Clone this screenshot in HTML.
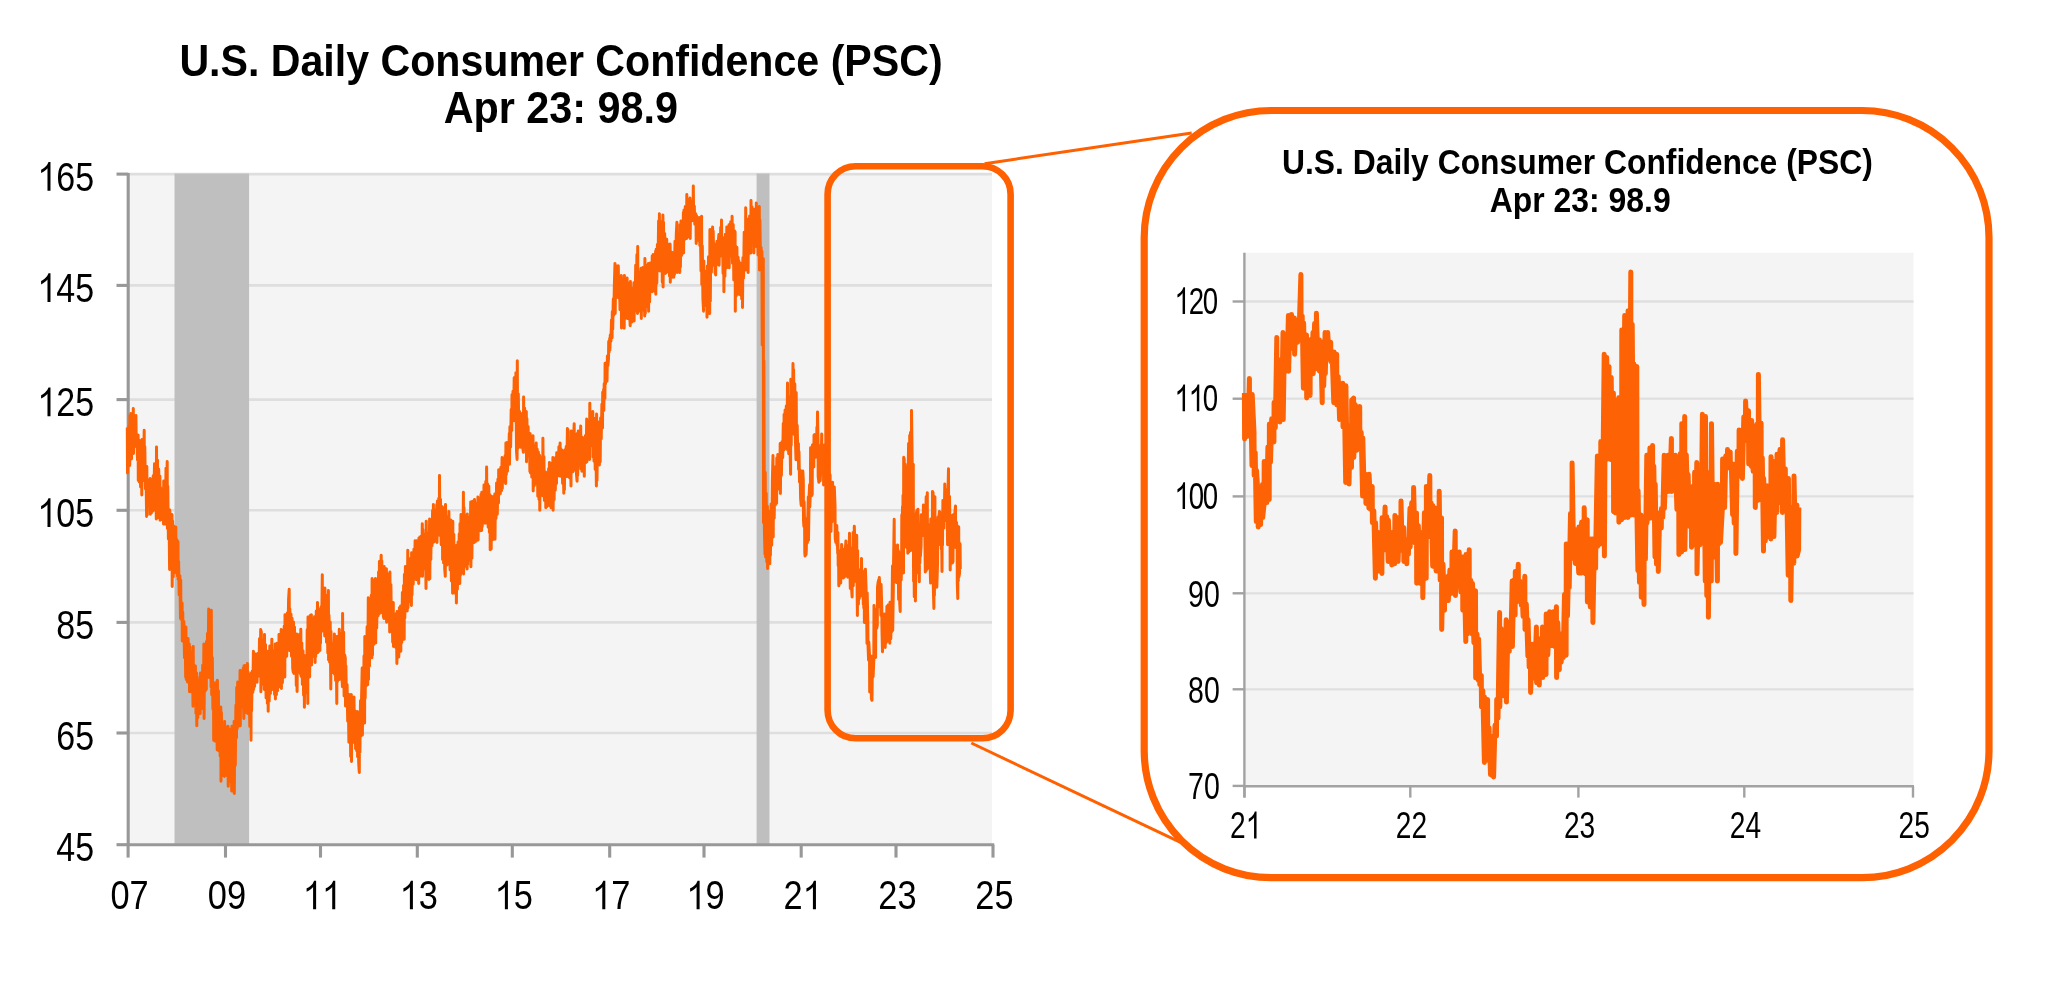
<!DOCTYPE html>
<html><head><meta charset="utf-8"><style>
html,body{margin:0;padding:0;background:#fff;width:2048px;height:993px;overflow:hidden}
svg{display:block;filter:blur(0.45px)}
text{font-family:"Liberation Sans",sans-serif;fill:#000}
.ly{font-size:40px}
.ry{font-size:37.5px}
.t1{font-size:44px;font-weight:bold}
.t2{font-size:35.5px;font-weight:bold}
</style></head><body>
<svg width="2048" height="993" viewBox="0 0 2048 993">
<rect width="2048" height="993" fill="#fff"/>
<text x="561" y="76.4" text-anchor="middle" class="t1" transform="translate(561 0) scale(0.935 1) translate(-561 0)">U.S. Daily Consumer Confidence (PSC)</text>
<text x="560.9" y="122.6" text-anchor="middle" class="t1" transform="translate(560.9 0) scale(0.940 1) translate(-560.9 0)">Apr 23: 98.9</text>
<rect x="128" y="173.5" width="864" height="671.2" fill="#f4f4f4"/>
<line x1="128" y1="174.1" x2="992" y2="174.1" stroke="#dedede" stroke-width="2.6"/>
<line x1="128" y1="285.4" x2="992" y2="285.4" stroke="#dedede" stroke-width="2.6"/>
<line x1="128" y1="399.6" x2="992" y2="399.6" stroke="#dedede" stroke-width="2.6"/>
<line x1="128" y1="510.3" x2="992" y2="510.3" stroke="#dedede" stroke-width="2.6"/>
<line x1="128" y1="622.4" x2="992" y2="622.4" stroke="#dedede" stroke-width="2.6"/>
<line x1="128" y1="733.0" x2="992" y2="733.0" stroke="#dedede" stroke-width="2.6"/>
<rect x="174.5" y="173.5" width="74.6" height="671.2" fill="#bfbfbf"/>
<rect x="756.6" y="173.5" width="12.9" height="671.2" fill="#bfbfbf"/>
<line x1="128.2" y1="173" x2="128.2" y2="845.9" stroke="#989898" stroke-width="3.1"/>
<line x1="127" y1="844.7" x2="994.2" y2="844.7" stroke="#989898" stroke-width="3.1"/>
<line x1="116.5" y1="174.1" x2="128.2" y2="174.1" stroke="#989898" stroke-width="3.1"/>
<line x1="116.5" y1="285.4" x2="128.2" y2="285.4" stroke="#989898" stroke-width="3.1"/>
<line x1="116.5" y1="399.6" x2="128.2" y2="399.6" stroke="#989898" stroke-width="3.1"/>
<line x1="116.5" y1="510.3" x2="128.2" y2="510.3" stroke="#989898" stroke-width="3.1"/>
<line x1="116.5" y1="622.4" x2="128.2" y2="622.4" stroke="#989898" stroke-width="3.1"/>
<line x1="116.5" y1="733.0" x2="128.2" y2="733.0" stroke="#989898" stroke-width="3.1"/>
<line x1="116.5" y1="844.7" x2="128.2" y2="844.7" stroke="#989898" stroke-width="3.1"/>
<line x1="128.1" y1="844.7" x2="128.1" y2="857.6" stroke="#989898" stroke-width="3.1"/>
<line x1="225.5" y1="844.7" x2="225.5" y2="857.6" stroke="#989898" stroke-width="3.1"/>
<line x1="320.5" y1="844.7" x2="320.5" y2="857.6" stroke="#989898" stroke-width="3.1"/>
<line x1="417.3" y1="844.7" x2="417.3" y2="857.6" stroke="#989898" stroke-width="3.1"/>
<line x1="512.3" y1="844.7" x2="512.3" y2="857.6" stroke="#989898" stroke-width="3.1"/>
<line x1="609.7" y1="844.7" x2="609.7" y2="857.6" stroke="#989898" stroke-width="3.1"/>
<line x1="704.0" y1="844.7" x2="704.0" y2="857.6" stroke="#989898" stroke-width="3.1"/>
<line x1="801.2" y1="844.7" x2="801.2" y2="857.6" stroke="#989898" stroke-width="3.1"/>
<line x1="896.0" y1="844.7" x2="896.0" y2="857.6" stroke="#989898" stroke-width="3.1"/>
<line x1="993.0" y1="844.7" x2="993.0" y2="857.6" stroke="#989898" stroke-width="3.1"/>
<path d="M0.385 0L0.385 -0.716L0.327 -0.716Q0.30 -0.64 0.22 -0.585Q0.16 -0.545 0.109 -0.525L0.109 -0.44Q0.17 -0.465 0.22 -0.497Q0.27 -0.53 0.297 -0.56L0.297 0Z" transform="translate(37.39 190.70) scale(34.000 40.000)" fill="#000"/><text x="56.29" y="190.70" style="font-size:40px" transform="translate(56.29 0) scale(0.85 1) translate(-56.29 0)">6</text><text x="75.20" y="190.70" style="font-size:40px" transform="translate(75.20 0) scale(0.85 1) translate(-75.20 0)">5</text>
<path d="M0.385 0L0.385 -0.716L0.327 -0.716Q0.30 -0.64 0.22 -0.585Q0.16 -0.545 0.109 -0.525L0.109 -0.44Q0.17 -0.465 0.22 -0.497Q0.27 -0.53 0.297 -0.56L0.297 0Z" transform="translate(37.39 302.00) scale(34.000 40.000)" fill="#000"/><text x="56.29" y="302.00" style="font-size:40px" transform="translate(56.29 0) scale(0.85 1) translate(-56.29 0)">4</text><text x="75.20" y="302.00" style="font-size:40px" transform="translate(75.20 0) scale(0.85 1) translate(-75.20 0)">5</text>
<path d="M0.385 0L0.385 -0.716L0.327 -0.716Q0.30 -0.64 0.22 -0.585Q0.16 -0.545 0.109 -0.525L0.109 -0.44Q0.17 -0.465 0.22 -0.497Q0.27 -0.53 0.297 -0.56L0.297 0Z" transform="translate(37.39 416.20) scale(34.000 40.000)" fill="#000"/><text x="56.29" y="416.20" style="font-size:40px" transform="translate(56.29 0) scale(0.85 1) translate(-56.29 0)">2</text><text x="75.20" y="416.20" style="font-size:40px" transform="translate(75.20 0) scale(0.85 1) translate(-75.20 0)">5</text>
<path d="M0.385 0L0.385 -0.716L0.327 -0.716Q0.30 -0.64 0.22 -0.585Q0.16 -0.545 0.109 -0.525L0.109 -0.44Q0.17 -0.465 0.22 -0.497Q0.27 -0.53 0.297 -0.56L0.297 0Z" transform="translate(37.39 526.90) scale(34.000 40.000)" fill="#000"/><text x="56.29" y="526.90" style="font-size:40px" transform="translate(56.29 0) scale(0.85 1) translate(-56.29 0)">0</text><text x="75.20" y="526.90" style="font-size:40px" transform="translate(75.20 0) scale(0.85 1) translate(-75.20 0)">5</text>
<text x="56.29" y="639.00" style="font-size:40px" transform="translate(56.29 0) scale(0.85 1) translate(-56.29 0)">8</text><text x="75.20" y="639.00" style="font-size:40px" transform="translate(75.20 0) scale(0.85 1) translate(-75.20 0)">5</text>
<text x="56.29" y="749.60" style="font-size:40px" transform="translate(56.29 0) scale(0.85 1) translate(-56.29 0)">6</text><text x="75.20" y="749.60" style="font-size:40px" transform="translate(75.20 0) scale(0.85 1) translate(-75.20 0)">5</text>
<text x="56.29" y="861.30" style="font-size:40px" transform="translate(56.29 0) scale(0.85 1) translate(-56.29 0)">4</text><text x="75.20" y="861.30" style="font-size:40px" transform="translate(75.20 0) scale(0.85 1) translate(-75.20 0)">5</text>
<text x="110.47" y="909.30" style="font-size:40px" transform="translate(110.47 0) scale(0.86 1) translate(-110.47 0)">0</text><text x="129.60" y="909.30" style="font-size:40px" transform="translate(129.60 0) scale(0.86 1) translate(-129.60 0)">7</text>
<text x="207.87" y="909.30" style="font-size:40px" transform="translate(207.87 0) scale(0.86 1) translate(-207.87 0)">0</text><text x="227.00" y="909.30" style="font-size:40px" transform="translate(227.00 0) scale(0.86 1) translate(-227.00 0)">9</text>
<path d="M0.385 0L0.385 -0.716L0.327 -0.716Q0.30 -0.64 0.22 -0.585Q0.16 -0.545 0.109 -0.525L0.109 -0.44Q0.17 -0.465 0.22 -0.497Q0.27 -0.53 0.297 -0.56L0.297 0Z" transform="translate(302.87 909.30) scale(34.400 40.000)" fill="#000"/><path d="M0.385 0L0.385 -0.716L0.327 -0.716Q0.30 -0.64 0.22 -0.585Q0.16 -0.545 0.109 -0.525L0.109 -0.44Q0.17 -0.465 0.22 -0.497Q0.27 -0.53 0.297 -0.56L0.297 0Z" transform="translate(322.00 909.30) scale(34.400 40.000)" fill="#000"/>
<path d="M0.385 0L0.385 -0.716L0.327 -0.716Q0.30 -0.64 0.22 -0.585Q0.16 -0.545 0.109 -0.525L0.109 -0.44Q0.17 -0.465 0.22 -0.497Q0.27 -0.53 0.297 -0.56L0.297 0Z" transform="translate(399.67 909.30) scale(34.400 40.000)" fill="#000"/><text x="418.80" y="909.30" style="font-size:40px" transform="translate(418.80 0) scale(0.86 1) translate(-418.80 0)">3</text>
<path d="M0.385 0L0.385 -0.716L0.327 -0.716Q0.30 -0.64 0.22 -0.585Q0.16 -0.545 0.109 -0.525L0.109 -0.44Q0.17 -0.465 0.22 -0.497Q0.27 -0.53 0.297 -0.56L0.297 0Z" transform="translate(494.67 909.30) scale(34.400 40.000)" fill="#000"/><text x="513.80" y="909.30" style="font-size:40px" transform="translate(513.80 0) scale(0.86 1) translate(-513.80 0)">5</text>
<path d="M0.385 0L0.385 -0.716L0.327 -0.716Q0.30 -0.64 0.22 -0.585Q0.16 -0.545 0.109 -0.525L0.109 -0.44Q0.17 -0.465 0.22 -0.497Q0.27 -0.53 0.297 -0.56L0.297 0Z" transform="translate(592.07 909.30) scale(34.400 40.000)" fill="#000"/><text x="611.20" y="909.30" style="font-size:40px" transform="translate(611.20 0) scale(0.86 1) translate(-611.20 0)">7</text>
<path d="M0.385 0L0.385 -0.716L0.327 -0.716Q0.30 -0.64 0.22 -0.585Q0.16 -0.545 0.109 -0.525L0.109 -0.44Q0.17 -0.465 0.22 -0.497Q0.27 -0.53 0.297 -0.56L0.297 0Z" transform="translate(686.37 909.30) scale(34.400 40.000)" fill="#000"/><text x="705.50" y="909.30" style="font-size:40px" transform="translate(705.50 0) scale(0.86 1) translate(-705.50 0)">9</text>
<text x="783.57" y="909.30" style="font-size:40px" transform="translate(783.57 0) scale(0.86 1) translate(-783.57 0)">2</text><path d="M0.385 0L0.385 -0.716L0.327 -0.716Q0.30 -0.64 0.22 -0.585Q0.16 -0.545 0.109 -0.525L0.109 -0.44Q0.17 -0.465 0.22 -0.497Q0.27 -0.53 0.297 -0.56L0.297 0Z" transform="translate(802.70 909.30) scale(34.400 40.000)" fill="#000"/>
<text x="878.37" y="909.30" style="font-size:40px" transform="translate(878.37 0) scale(0.86 1) translate(-878.37 0)">2</text><text x="897.50" y="909.30" style="font-size:40px" transform="translate(897.50 0) scale(0.86 1) translate(-897.50 0)">3</text>
<text x="975.37" y="909.30" style="font-size:40px" transform="translate(975.37 0) scale(0.86 1) translate(-975.37 0)">2</text><text x="994.50" y="909.30" style="font-size:40px" transform="translate(994.50 0) scale(0.86 1) translate(-994.50 0)">5</text>
<path d="M127.3 427.5 L127.5 473.1 L127.9 434.9 L128.5 466.0 L129.1 426.1 L129.7 465.5 L129.9 415.5 L130.3 458.3 L130.9 413.6 L131.5 459.1 L132.1 414.7 L132.7 451.9 L133.3 408.5 L133.5 453.5 L133.9 418.9 L134.5 439.1 L135.1 418.4 L135.7 446.5 L135.9 415.5 L136.3 445.3 L136.9 436.6 L137.5 460.0 L138.1 435.0 L138.3 480.5 L138.7 440.9 L139.3 482.1 L139.9 440.7 L140.6 487.0 L141.2 442.0 L141.8 494.9 L142.0 439.5 L142.4 481.2 L143.0 449.1 L143.6 471.1 L144.2 430.2 L144.4 480.5 L144.8 446.5 L145.4 488.7 L146.0 469.4 L146.6 516.5 L146.8 466.5 L147.2 514.9 L147.8 479.5 L148.4 503.7 L149.0 484.0 L149.6 506.1 L150.2 478.5 L150.4 514.3 L150.8 481.0 L151.4 513.0 L152.0 480.1 L152.6 511.2 L153.2 475.7 L153.9 500.4 L154.5 463.8 L155.1 510.3 L155.7 469.7 L156.3 519.1 L156.5 447.1 L156.9 504.7 L157.5 460.0 L158.1 517.5 L158.7 468.9 L159.3 506.8 L159.9 476.1 L160.1 520.3 L160.5 487.6 L161.1 519.6 L161.7 489.3 L162.3 510.0 L162.9 488.7 L163.5 523.9 L163.7 481.0 L164.1 519.7 L164.7 482.9 L165.3 524.0 L166.0 468.3 L166.6 509.4 L167.2 461.5 L167.4 528.5 L167.8 486.3 L168.4 539.0 L169.0 515.1 L169.6 569.5 L169.8 510.0 L170.2 565.6 L170.8 529.4 L171.4 565.2 L172.0 514.5 L172.2 586.5 L172.6 520.8 L173.2 577.0 L173.8 525.9 L174.4 573.1 L175.0 533.6 L175.6 572.3 L175.8 526.9 L176.2 570.7 L176.8 539.4 L177.4 576.1 L178.0 541.5 L178.2 579.5 L178.6 561.6 L179.2 594.9 L179.9 575.7 L180.5 618.5 L180.7 580.1 L181.0 619.3 L181.6 605.7 L182.1 602.9 L182.3 641.0 L182.7 612.0 L183.3 641.5 L183.9 621.6 L184.5 657.8 L185.1 630.6 L185.7 677.3 L185.9 627.1 L186.3 679.4 L186.9 639.3 L187.5 681.9 L188.1 638.4 L188.7 677.8 L189.3 644.0 L189.5 691.8 L189.9 647.0 L190.5 689.3 L191.2 657.0 L191.8 692.2 L192.4 651.7 L193.0 706.3 L193.2 646.5 L193.6 700.4 L194.2 664.9 L194.8 702.8 L195.4 666.0 L196.0 713.4 L196.6 673.1 L196.8 725.7 L197.2 676.9 L197.8 717.6 L198.4 683.9 L199.0 710.8 L199.6 680.3 L200.2 713.5 L200.4 673.1 L200.8 703.8 L201.4 677.6 L202.1 708.4 L202.7 665.3 L203.3 707.2 L203.9 644.0 L204.1 718.5 L204.5 653.8 L205.1 691.3 L205.7 649.5 L206.3 689.5 L206.5 641.5 L206.9 678.0 L207.5 633.6 L208.1 662.5 L208.7 609.0 L208.9 677.3 L209.3 624.1 L209.9 663.1 L210.5 631.0 L211.1 687.0 L211.3 610.2 L211.7 694.7 L212.3 657.6 L212.9 709.2 L213.5 682.5 L213.7 740.2 L214.1 697.2 L214.7 740.9 L215.3 683.7 L216.0 738.0 L216.6 682.1 L217.2 749.9 L217.4 680.3 L217.8 750.1 L218.4 690.7 L219.0 751.1 L219.6 715.2 L220.2 756.3 L220.8 706.9 L221.0 781.3 L221.4 712.6 L222.0 765.1 L222.6 727.0 L223.2 775.5 L223.8 734.5 L224.4 776.5 L224.6 721.5 L225.0 761.9 L225.6 726.8 L226.2 764.9 L226.8 731.7 L227.4 775.9 L228.0 726.3 L228.2 786.2 L228.6 744.3 L229.2 772.4 L229.8 729.3 L230.5 781.2 L231.1 736.2 L231.7 791.0 L231.9 726.3 L232.3 784.9 L232.9 727.9 L233.5 786.2 L234.1 721.5 L234.3 793.5 L234.7 727.4 L235.3 765.3 L235.9 705.3 L236.5 737.8 L236.7 687.5 L237.1 729.0 L237.7 682.1 L238.3 726.5 L238.9 686.2 L239.5 719.4 L240.1 670.5 L240.3 725.7 L240.7 670.8 L241.3 707.2 L241.9 680.9 L242.6 705.3 L243.2 668.3 L243.8 718.5 L244.0 665.8 L244.4 713.5 L245.0 665.6 L245.6 704.0 L246.2 668.4 L246.8 712.4 L247.4 663.5 L247.6 713.5 L248.0 671.8 L248.6 707.2 L249.2 682.7 L249.8 726.5 L250.4 674.4 L251.0 740.2 L251.2 673.1 L251.6 711.0 L252.2 671.2 L252.8 692.6 L253.4 651.3 L253.6 689.5 L254.0 652.7 L254.6 686.5 L255.2 659.4 L255.9 680.6 L256.5 654.0 L257.1 682.2 L257.3 653.7 L257.7 674.2 L258.3 653.2 L258.9 676.1 L259.5 638.8 L260.1 675.6 L260.7 629.5 L260.9 691.8 L261.3 631.5 L261.9 675.5 L262.5 639.9 L263.1 684.4 L263.7 642.9 L264.3 689.5 L264.5 634.4 L264.9 677.6 L265.5 644.6 L266.1 698.1 L266.8 654.9 L267.4 703.4 L268.0 651.3 L268.2 711.2 L268.6 651.2 L269.2 701.2 L269.8 646.1 L270.4 693.5 L271.0 646.1 L271.6 689.5 L271.8 639.2 L272.2 686.4 L272.8 652.6 L273.4 689.7 L274.0 650.4 L274.6 694.6 L275.2 644.0 L275.4 699.1 L275.8 648.1 L276.4 694.8 L277.0 643.2 L277.6 690.8 L278.2 647.7 L278.8 687.0 L279.0 634.4 L279.4 678.4 L280.0 635.1 L280.6 679.9 L281.2 629.5 L281.4 688.5 L281.8 643.7 L282.4 682.8 L283.0 637.0 L283.6 672.9 L284.2 626.3 L284.8 677.0 L285.0 614.7 L285.4 657.6 L286.1 614.7 L286.7 656.2 L287.3 612.9 L287.9 639.9 L288.6 599.2 L289.2 589.3 L289.4 650.4 L289.8 608.8 L290.4 644.3 L291.0 614.1 L291.5 656.2 L292.1 618.2 L292.7 668.2 L293.3 672.2 L293.5 622.0 L293.9 673.4 L294.5 627.1 L295.1 669.9 L295.7 634.3 L296.3 685.5 L296.9 634.1 L297.1 691.5 L297.5 634.7 L298.1 672.4 L298.8 645.1 L299.4 670.2 L300.0 634.0 L300.6 674.5 L300.8 629.2 L301.2 676.6 L301.8 643.0 L302.4 684.4 L303.0 650.8 L303.6 695.3 L304.2 658.2 L304.4 707.2 L304.8 655.7 L305.4 688.2 L306.0 657.4 L306.6 692.6 L307.2 629.8 L307.8 703.5 L308.0 617.1 L308.4 673.8 L309.0 623.2 L309.6 676.9 L310.2 615.5 L310.8 664.9 L311.4 614.7 L311.6 664.9 L312.0 622.1 L312.6 656.8 L313.2 618.8 L313.9 656.2 L314.5 616.8 L315.1 662.5 L315.3 617.1 L315.7 656.4 L316.3 611.1 L316.9 649.3 L317.5 602.5 L317.7 652.8 L318.1 608.5 L318.7 651.4 L319.3 621.9 L319.9 650.5 L320.1 624.4 L320.5 643.3 L321.1 606.8 L321.7 628.2 L322.3 574.8 L322.5 631.1 L322.9 590.3 L323.5 623.2 L324.1 595.5 L324.7 635.9 L324.9 588.1 L325.3 626.4 L325.9 595.3 L326.5 642.3 L327.2 608.1 L327.8 653.1 L328.4 590.5 L328.6 660.1 L329.0 615.2 L329.6 662.3 L330.2 622.0 L330.8 689.1 L331.0 631.5 L331.4 673.0 L332.0 646.2 L332.6 672.6 L333.2 643.4 L333.8 666.4 L334.4 634.1 L334.6 674.5 L335.0 636.7 L335.6 680.6 L336.2 645.0 L336.8 703.5 L337.0 636.5 L337.4 681.8 L338.1 647.0 L338.7 672.0 L339.3 629.2 L339.5 679.5 L339.9 635.7 L340.5 666.5 L341.2 632.9 L341.8 671.0 L342.4 686.7 L342.6 613.5 L343.0 685.9 L343.6 632.0 L344.1 696.0 L344.7 655.0 L345.3 658.2 L345.5 706.0 L345.9 665.8 L346.5 706.1 L347.1 684.4 L347.7 721.2 L348.3 697.4 L348.9 742.3 L349.1 694.5 L349.5 736.4 L350.1 702.9 L350.7 756.6 L351.3 694.5 L351.5 761.5 L351.9 709.8 L352.6 739.3 L353.2 704.0 L353.8 742.3 L354.0 696.9 L354.4 737.4 L355.0 710.7 L355.6 748.7 L356.2 716.7 L356.8 751.0 L357.4 711.5 L357.6 756.8 L358.0 714.2 L358.7 763.1 L359.3 772.5 L359.5 716.3 L359.9 752.2 L360.5 700.7 L361.0 736.1 L361.6 696.6 L362.2 667.9 L362.4 735.0 L362.8 670.7 L363.4 720.1 L364.0 656.1 L364.6 722.9 L364.8 636.5 L365.2 698.1 L365.8 643.1 L366.5 685.6 L367.1 626.8 L367.7 684.8 L368.3 597.8 L368.5 679.5 L368.9 598.2 L369.5 666.1 L370.1 606.1 L370.7 657.7 L371.3 595.3 L371.9 657.7 L372.1 578.5 L372.5 655.0 L373.1 579.9 L373.7 644.6 L374.3 592.5 L374.9 631.6 L375.5 578.5 L375.7 643.1 L376.1 588.4 L376.7 628.1 L377.4 579.1 L378.0 615.9 L378.6 572.0 L379.2 614.1 L379.4 561.5 L379.9 611.6 L380.5 572.2 L381.2 555.2 L381.4 612.5 L381.8 560.8 L382.3 598.7 L382.9 577.2 L383.4 617.0 L384.0 618.5 L384.2 566.5 L384.6 612.2 L385.2 580.6 L385.8 605.9 L386.4 568.8 L386.6 622.3 L386.9 576.7 L387.5 621.0 L388.0 574.0 L388.6 612.4 L389.1 575.3 L389.7 632.0 L389.9 572.1 L390.3 624.4 L390.9 584.6 L391.5 631.1 L392.1 606.5 L392.7 642.2 L393.3 602.5 L393.5 646.5 L393.9 615.2 L394.5 645.0 L395.1 619.8 L395.7 647.4 L396.3 613.5 L396.9 663.4 L397.1 611.5 L397.5 647.7 L398.1 616.9 L398.8 657.0 L399.4 607.8 L400.0 646.5 L400.6 605.9 L400.8 651.3 L401.2 607.2 L401.8 642.6 L402.4 592.5 L403.0 637.2 L403.6 585.6 L404.2 639.2 L404.4 574.5 L404.8 618.0 L405.4 566.5 L406.0 609.7 L406.6 573.4 L407.2 610.9 L407.8 550.3 L408.0 607.8 L408.4 566.5 L409.0 595.0 L409.6 566.4 L410.2 601.5 L410.8 558.3 L411.4 605.4 L411.6 552.7 L412.0 595.0 L412.6 563.0 L413.2 584.1 L413.9 549.3 L414.5 578.0 L415.1 540.7 L415.3 578.8 L415.7 543.5 L416.3 579.8 L416.9 540.7 L417.5 571.2 L418.1 542.4 L418.7 583.6 L418.9 538.2 L419.3 569.3 L419.9 536.9 L420.5 576.0 L421.1 536.2 L421.7 574.6 L422.3 523.7 L422.5 576.3 L422.9 529.5 L423.5 563.9 L424.1 538.4 L424.8 569.2 L425.4 534.0 L426.0 588.5 L426.2 521.3 L426.6 568.8 L427.2 538.8 L427.8 573.2 L428.4 533.2 L429.0 579.5 L429.6 518.9 L429.8 578.8 L430.2 528.8 L430.8 559.6 L431.4 522.7 L432.0 545.8 L432.6 510.4 L433.2 542.5 L433.4 504.4 L433.8 541.9 L434.4 515.0 L435.0 541.0 L435.6 509.8 L436.2 538.6 L436.8 504.4 L437.0 542.5 L437.4 501.0 L438.1 528.0 L438.7 498.6 L439.3 535.2 L439.5 475.4 L439.9 535.5 L440.5 499.2 L441.2 544.7 L441.8 509.6 L442.4 506.8 L442.6 559.4 L443.0 513.0 L443.6 563.1 L444.1 508.5 L444.7 568.7 L445.3 576.3 L445.5 504.4 L445.9 555.3 L446.5 516.4 L447.1 565.0 L447.7 524.8 L448.3 548.1 L448.9 511.6 L449.1 561.8 L449.5 520.5 L450.1 569.9 L450.8 520.0 L451.4 581.0 L452.0 526.7 L452.6 593.3 L452.8 521.3 L453.2 593.0 L453.8 534.2 L454.4 593.1 L455.0 548.1 L455.6 585.4 L456.2 545.5 L456.4 602.9 L456.8 554.9 L457.4 589.3 L458.0 541.9 L458.6 580.7 L459.2 534.1 L459.8 583.6 L460.0 523.7 L460.4 575.5 L461.0 514.5 L461.6 572.9 L462.2 524.4 L462.8 572.6 L463.4 492.3 L463.6 573.9 L464.0 507.6 L464.6 558.6 L465.2 520.9 L465.9 566.6 L466.5 515.3 L467.1 569.1 L467.3 514.1 L467.7 564.5 L468.3 517.1 L468.9 559.9 L469.5 523.6 L470.1 551.0 L470.7 502.0 L470.9 566.7 L471.3 517.6 L471.9 558.3 L472.5 501.3 L473.1 539.9 L473.7 512.4 L474.3 542.5 L474.5 499.5 L474.9 536.0 L475.5 506.3 L476.1 541.3 L476.7 503.0 L477.3 528.5 L477.9 497.1 L478.1 540.1 L478.5 506.7 L479.1 526.3 L479.8 506.5 L480.4 530.7 L481.0 494.4 L481.6 530.4 L481.8 492.3 L482.2 526.8 L482.8 494.6 L483.4 517.1 L484.0 485.0 L484.2 523.1 L484.6 492.5 L485.2 512.9 L485.8 481.5 L486.4 523.1 L486.6 466.9 L487.0 514.7 L487.6 483.8 L488.2 527.2 L488.8 486.1 L489.4 532.3 L490.0 494.7 L490.2 549.7 L490.6 499.3 L491.2 548.9 L491.4 496.3 L491.8 533.1 L492.4 505.2 L493.0 539.6 L493.6 496.5 L494.2 537.3 L494.8 493.9 L495.0 539.2 L495.4 498.1 L496.0 518.5 L496.6 483.1 L497.3 514.3 L497.9 479.3 L498.5 503.0 L498.7 469.7 L499.1 494.8 L499.7 469.5 L500.3 493.6 L500.9 467.3 L501.5 490.8 L502.1 457.6 L502.3 488.5 L502.7 458.1 L503.3 482.2 L503.9 460.6 L504.5 478.0 L505.1 455.8 L505.7 483.6 L505.9 443.1 L506.3 474.8 L506.9 442.5 L507.5 471.3 L508.1 446.5 L508.7 460.6 L509.3 433.4 L509.5 464.3 L509.9 426.7 L510.6 447.1 L511.2 409.5 L511.8 430.4 L512.0 394.7 L512.4 420.4 L513.0 391.2 L513.6 420.0 L514.2 377.8 L514.4 420.7 L514.8 385.2 L515.4 418.1 L515.9 372.8 L516.5 450.8 L517.1 459.4 L517.3 360.8 L517.7 448.5 L518.3 393.8 L519.0 440.9 L519.6 411.6 L520.2 421.3 L520.4 447.3 L520.8 424.1 L521.5 440.9 L522.1 413.4 L522.8 448.2 L523.4 452.2 L523.6 397.1 L524.0 438.4 L524.6 407.9 L525.1 445.1 L525.7 412.2 L526.3 411.6 L526.5 461.8 L526.9 418.4 L527.5 454.5 L528.1 426.4 L528.7 456.2 L529.3 435.7 L529.9 471.5 L530.1 433.4 L530.5 473.0 L531.1 437.4 L531.8 477.1 L532.4 445.6 L533.0 435.8 L533.2 490.9 L533.6 452.1 L534.2 485.8 L534.8 445.6 L535.4 482.3 L536.0 483.6 L536.2 443.1 L536.6 475.5 L537.2 449.1 L537.8 496.2 L538.4 452.1 L539.0 499.6 L539.6 455.2 L539.8 510.2 L540.2 466.8 L540.8 489.6 L541.5 457.4 L542.1 481.5 L542.7 495.7 L542.9 438.2 L543.3 483.3 L543.9 456.6 L544.4 500.5 L545.0 476.6 L545.6 472.1 L545.8 507.8 L546.2 478.8 L546.8 506.6 L547.4 475.1 L548.0 501.6 L548.6 468.8 L549.2 505.4 L549.4 462.5 L549.8 501.8 L550.4 463.2 L551.0 507.8 L551.7 463.4 L552.3 504.0 L552.9 457.6 L553.1 510.2 L553.5 470.8 L554.1 499.6 L554.7 467.2 L555.3 490.1 L555.9 457.2 L556.5 483.6 L556.7 452.7 L557.1 474.7 L557.7 457.3 L558.3 475.8 L558.9 446.8 L559.5 472.9 L560.1 443.1 L560.3 476.3 L560.7 448.6 L561.3 472.1 L562.0 450.0 L562.6 483.5 L563.2 461.7 L563.8 493.3 L564.0 452.7 L564.4 489.7 L565.0 449.8 L565.6 473.1 L566.2 446.6 L566.8 476.6 L567.4 428.5 L567.6 473.9 L568.0 429.4 L568.6 477.0 L569.2 443.6 L569.8 478.0 L570.4 442.6 L571.0 486.0 L571.2 431.0 L571.6 468.3 L572.3 433.3 L572.9 471.8 L573.6 438.8 L574.2 423.7 L574.4 469.1 L574.8 434.1 L575.4 470.3 L575.9 439.6 L576.5 474.3 L577.1 481.2 L577.3 433.4 L577.7 475.3 L578.3 431.0 L578.9 464.9 L579.5 440.8 L580.1 462.8 L580.7 426.1 L580.9 469.1 L581.3 440.6 L581.9 471.2 L582.5 437.3 L583.1 468.7 L583.7 450.3 L584.3 476.3 L584.5 443.1 L584.9 462.5 L585.5 435.4 L586.1 462.4 L586.7 418.9 L586.9 461.8 L587.3 421.6 L587.9 453.7 L588.4 423.6 L589.0 456.9 L589.6 459.4 L589.8 403.2 L590.2 445.9 L590.9 418.1 L591.5 445.7 L592.2 420.9 L592.8 411.6 L593.0 457.0 L593.4 421.1 L594.0 461.3 L594.6 418.5 L595.2 469.5 L595.8 429.5 L596.4 486.0 L596.6 414.1 L597.0 480.4 L597.6 421.6 L598.2 461.7 L598.8 425.6 L599.4 465.0 L600.0 426.1 L600.2 461.8 L600.6 418.0 L601.2 439.0 L601.9 404.2 L602.5 428.0 L602.7 392.3 L603.0 410.9 L603.6 389.5 L603.8 410.5 L604.2 383.8 L604.9 398.5 L605.1 363.3 L605.5 384.0 L606.2 364.7 L606.8 362.5 L607.0 381.3 L607.4 356.0 L607.9 365.6 L608.5 358.5 L608.7 341.5 L609.1 352.1 L609.7 338.4 L609.9 349.9 L610.3 335.0 L610.9 341.3 L611.5 320.0 L612.1 337.8 L612.3 311.8 L612.7 329.1 L613.3 299.1 L613.8 315.1 L614.4 283.3 L615.0 263.4 L615.2 313.6 L615.6 275.5 L616.2 297.6 L616.9 266.2 L617.5 289.9 L618.1 294.3 L618.3 265.8 L618.7 298.1 L619.4 276.2 L620.0 309.8 L620.7 284.1 L621.3 275.5 L621.5 328.1 L621.9 278.6 L622.5 324.2 L623.0 279.4 L623.6 325.7 L624.2 328.1 L624.4 275.5 L624.8 312.9 L625.4 284.8 L625.9 317.9 L626.5 282.5 L627.1 277.9 L627.3 318.5 L627.7 290.9 L628.3 315.0 L629.0 283.0 L629.6 313.7 L630.2 325.7 L630.4 281.5 L630.8 316.4 L631.4 294.4 L632.0 322.0 L632.7 288.0 L633.3 312.1 L633.9 282.7 L634.1 320.9 L634.5 287.5 L635.1 305.3 L635.7 265.2 L636.3 311.0 L636.9 254.8 L637.5 313.6 L637.7 246.5 L638.1 310.8 L638.7 271.7 L639.3 305.8 L639.9 276.6 L640.5 311.8 L641.1 268.2 L641.3 318.5 L641.7 280.0 L642.3 310.6 L642.9 267.6 L643.5 304.0 L644.1 276.1 L644.7 316.0 L644.9 258.5 L645.3 313.4 L645.9 269.8 L646.5 303.8 L647.2 265.1 L647.8 306.5 L648.4 263.4 L648.6 311.2 L649.0 264.1 L649.6 302.1 L650.2 262.9 L650.8 291.1 L651.4 264.7 L652.0 291.8 L652.2 256.1 L652.6 290.0 L653.2 254.6 L653.8 289.2 L654.4 261.2 L655.0 291.6 L655.6 251.3 L655.8 294.3 L656.2 249.3 L656.8 283.3 L657.4 244.4 L658.0 269.6 L658.6 221.1 L659.2 270.1 L659.4 213.8 L659.8 271.1 L660.4 221.5 L661.0 268.0 L661.7 227.4 L662.3 282.3 L662.9 215.0 L663.1 287.0 L663.5 222.3 L664.1 269.8 L664.7 233.6 L665.3 273.4 L665.9 238.8 L666.5 272.5 L666.7 239.2 L667.1 264.4 L667.7 244.1 L668.3 271.3 L668.9 246.4 L669.5 275.9 L670.1 244.1 L670.3 282.2 L670.7 255.0 L671.3 270.6 L672.0 252.3 L672.6 277.3 L673.2 257.8 L673.8 277.3 L674.0 253.7 L674.4 274.6 L675.0 241.2 L675.7 263.7 L676.3 234.3 L676.9 222.3 L677.1 272.5 L677.5 235.0 L678.1 266.5 L678.6 236.7 L679.2 265.8 L679.8 272.5 L680.0 224.7 L680.4 267.0 L681.0 220.9 L681.6 255.5 L682.2 224.9 L682.8 244.9 L683.4 212.6 L683.6 253.1 L684.0 210.1 L684.7 239.5 L685.3 206.5 L686.0 234.9 L686.6 238.6 L686.8 194.5 L687.2 236.7 L687.7 199.3 L688.3 232.0 L688.9 208.5 L689.4 237.3 L690.0 198.1 L690.2 238.6 L690.6 201.4 L691.2 221.1 L691.9 200.9 L692.5 219.3 L693.1 216.9 L693.3 186.0 L693.7 221.1 L694.3 206.1 L694.8 224.2 L695.4 213.4 L696.0 215.0 L696.2 243.5 L696.6 215.9 L697.3 235.2 L697.9 219.5 L698.6 234.9 L699.2 241.1 L699.4 217.5 L699.8 245.5 L700.4 228.2 L701.0 270.9 L701.6 216.2 L701.8 284.5 L702.3 245.8 L702.9 298.6 L703.6 311.2 L703.8 261.0 L704.2 306.4 L704.9 277.3 L705.5 302.9 L706.2 271.4 L706.8 270.7 L707.0 317.2 L707.4 266.0 L708.0 308.4 L708.5 256.7 L709.1 305.5 L709.7 313.6 L709.9 229.5 L710.3 301.2 L710.9 233.4 L711.4 272.3 L712.0 240.3 L712.6 227.1 L712.8 265.2 L713.2 231.0 L713.8 263.1 L714.5 245.0 L715.1 272.6 L715.7 274.9 L715.9 244.1 L716.3 265.2 L717.0 241.3 L717.6 263.5 L718.3 241.4 L718.9 234.4 L719.1 265.2 L719.5 236.7 L720.1 256.2 L720.7 227.6 L721.3 253.1 L721.5 219.9 L721.9 256.3 L722.5 237.2 L723.1 273.4 L723.7 244.1 L723.9 291.8 L724.3 246.9 L724.9 276.3 L725.4 234.2 L726.0 264.7 L726.6 267.7 L726.8 227.1 L727.2 261.6 L727.8 228.9 L728.4 258.0 L729.0 224.7 L729.2 267.7 L729.6 232.8 L730.2 256.3 L730.7 221.7 L731.3 250.6 L731.9 253.1 L732.1 216.2 L732.5 263.3 L733.2 224.6 L733.8 279.9 L734.5 230.8 L735.1 232.0 L735.3 311.2 L735.7 246.3 L736.3 295.8 L736.9 247.2 L737.5 290.7 L738.1 257.2 L738.7 294.3 L738.9 261.0 L739.3 288.8 L739.9 270.4 L740.5 295.0 L741.1 263.3 L741.7 299.0 L742.3 263.4 L742.5 307.6 L742.9 257.7 L743.6 277.9 L744.2 232.3 L744.9 262.5 L745.5 270.1 L745.7 207.8 L746.1 252.8 L746.7 226.5 L747.3 258.4 L747.9 219.9 L748.1 272.5 L748.5 219.1 L749.1 249.2 L749.6 216.0 L750.2 241.9 L750.8 253.1 L751.0 200.5 L751.4 239.2 L752.0 206.8 L752.5 242.0 L753.1 220.8 L753.7 210.2 L753.9 253.1 L754.3 209.2 L754.9 243.9 L755.5 214.1 L756.1 243.5 L756.3 202.9 L756.7 246.7 L757.4 217.7 L758.0 255.0 L758.7 220.2 L759.3 206.5 L759.5 270.1 L759.9 219.9 L760.5 261.8 L761.1 247.4 L761.7 265.2 L761.9 251.3 L762.2 344.9 L762.8 270.3 L763.3 258.5 L763.5 522.5 L763.9 360.7 L764.4 529.9 L765.0 554.1 L765.2 472.5 L765.6 556.9 L766.2 493.3 L766.8 561.7 L767.4 506.3 L767.6 568.5 L768.0 524.3 L768.6 554.4 L769.2 524.7 L769.8 563.7 L770.0 511.1 L770.4 555.4 L771.1 504.0 L771.7 545.3 L772.4 478.7 L773.0 455.5 L773.2 537.1 L773.6 470.3 L774.2 518.3 L774.8 473.3 L775.4 505.0 L776.0 466.5 L776.6 503.3 L776.8 457.9 L777.2 489.5 L777.8 454.5 L778.4 484.2 L779.0 457.4 L779.6 489.4 L780.2 443.4 L780.4 493.6 L780.8 450.0 L781.4 475.5 L782.0 441.7 L782.7 457.6 L783.3 423.4 L783.9 450.1 L784.1 414.4 L784.5 440.7 L785.1 410.0 L785.7 447.4 L786.3 406.0 L786.9 449.2 L787.5 382.9 L787.7 450.1 L788.1 400.1 L788.7 453.8 L789.4 396.8 L790.0 443.1 L790.6 474.3 L790.8 379.3 L791.2 445.4 L791.8 386.4 L792.4 426.4 L793.0 363.6 L793.2 418.6 L793.6 369.4 L794.2 434.4 L794.8 383.8 L795.4 439.5 L796.0 459.7 L796.2 392.6 L796.6 454.8 L797.2 425.2 L797.8 457.3 L798.4 443.4 L798.6 469.5 L799.0 451.6 L799.5 482.1 L800.1 470.1 L800.6 498.1 L801.2 505.5 L801.4 479.4 L801.9 493.1 L802.1 504.1 L802.6 501.3 L802.8 471.1 L803.3 480.2 L803.5 520.7 L803.9 526.4 L804.1 501.7 L804.6 523.4 L804.8 552.9 L805.1 556.1 L805.3 537.2 L805.8 544.7 L806.0 554.6 L806.3 550.6 L806.5 531.4 L806.8 518.4 L807.0 543.1 L807.5 541.9 L807.7 522.3 L808.3 496.9 L808.5 540.2 L809.0 505.8 L809.2 494.0 L809.6 484.7 L809.8 507.0 L810.4 491.7 L810.6 447.7 L811.3 462.9 L811.5 495.8 L812.2 494.5 L812.4 444.9 L813.1 446.4 L813.3 467.0 L813.8 467.0 L814.0 435.3 L814.6 434.6 L814.8 451.8 L815.5 457.3 L815.7 436.7 L815.9 453.9 L816.4 438.0 L816.6 450.5 L816.9 427.3 L817.3 443.6 L817.5 411.9 L818.0 439.5 L818.2 476.6 L818.9 482.2 L819.1 446.4 L819.4 480.4 L820.0 449.1 L820.2 480.7 L820.8 468.4 L821.0 444.9 L821.2 464.0 L821.7 433.9 L821.9 465.6 L822.6 467.0 L822.8 449.1 L823.4 450.5 L823.6 484.9 L824.2 468.4 L824.4 444.9 L824.9 444.9 L825.1 460.1 L825.4 448.6 L825.8 461.5 L826.0 450.5 L826.7 456.0 L826.9 484.9 L827.6 486.3 L827.8 457.3 L828.4 473.9 L828.6 494.5 L828.8 477.8 L829.3 498.6 L829.5 473.9 L830.1 475.2 L830.3 530.4 L831.0 531.3 L831.2 510.9 L831.8 483.5 L832.0 521.8 L832.4 516.0 L832.6 482.3 L832.8 508.8 L833.3 488.5 L833.5 511.8 L834.1 509.0 L834.3 487.1 L835.0 504.9 L835.2 538.2 L835.8 542.4 L836.0 525.6 L836.3 542.7 L836.8 525.6 L837.0 545.2 L837.2 532.9 L837.7 553.5 L837.9 532.6 L838.2 565.8 L838.6 553.5 L838.8 585.7 L839.5 581.5 L839.7 559.1 L840.0 581.1 L840.5 550.7 L840.7 582.9 L840.9 555.3 L841.4 567.5 L841.6 544.4 L842.3 552.1 L842.5 575.9 L842.8 558.5 L843.3 578.0 L843.5 561.9 L844.1 549.3 L844.3 577.3 L844.6 551.2 L845.1 575.9 L845.3 550.7 L845.9 540.9 L846.1 567.5 L846.7 575.9 L846.9 556.3 L847.6 563.3 L847.8 577.3 L848.1 554.8 L848.5 567.5 L848.7 545.2 L849.0 557.6 L849.5 533.3 L849.7 556.4 L850.3 588.5 L850.5 547.9 L850.9 579.4 L851.4 559.1 L851.6 588.5 L852.1 596.9 L852.3 561.9 L852.6 581.0 L853.1 532.6 L853.3 585.7 L853.6 534.3 L854.1 553.5 L854.3 526.3 L854.9 543.7 L855.1 578.7 L855.4 547.3 L855.8 581.5 L856.0 545.2 L856.7 535.3 L856.9 567.5 L857.4 615.5 L857.6 550.7 L858.2 587.1 L858.4 604.2 L858.8 585.9 L859.3 598.6 L859.5 584.5 L859.8 592.8 L860.3 570.5 L860.5 594.3 L860.8 569.6 L861.3 595.7 L861.5 558.4 L861.8 589.9 L862.3 570.5 L862.5 590.2 L862.8 576.8 L863.3 604.2 L863.5 573.3 L863.8 608.0 L864.2 571.9 L864.4 622.6 L864.7 584.2 L865.2 615.5 L865.4 569.2 L866.1 588.7 L866.3 618.3 L866.5 599.6 L867.0 643.5 L867.2 592.9 L867.8 621.1 L868.0 644.9 L868.6 660.1 L868.8 642.0 L869.5 654.6 L869.7 692.0 L869.9 657.9 L870.4 690.6 L870.6 655.9 L871.2 676.7 L871.4 698.9 L872.0 700.3 L872.2 679.5 L872.9 655.9 L873.1 676.7 L873.8 660.1 L874.0 605.6 L874.6 621.1 L874.8 651.8 L875.1 626.1 L875.6 657.4 L875.8 609.8 L876.5 611.2 L876.7 628.2 L877.3 625.3 L877.5 587.3 L878.2 581.7 L878.4 607.0 L878.6 579.9 L879.1 597.2 L879.3 577.5 L879.9 588.7 L880.1 601.4 L880.4 590.1 L880.9 615.5 L881.1 584.5 L881.8 609.8 L882.0 630.9 L882.5 651.8 L882.7 624.0 L883.3 624.0 L883.5 643.5 L884.2 646.2 L884.4 614.1 L885.0 621.1 L885.2 647.6 L885.4 621.0 L885.9 643.3 L886.1 614.1 L886.4 640.2 L886.9 606.5 L887.1 641.6 L887.4 606.3 L887.9 624.9 L888.1 605.1 L888.4 620.3 L888.9 605.1 L889.1 624.9 L889.8 643.3 L890.0 602.3 L890.6 617.8 L890.8 638.8 L891.1 618.6 L891.7 631.8 L891.9 619.2 L892.5 565.9 L892.7 630.5 L893.3 591.1 L893.5 565.9 L894.2 519.2 L894.4 574.3 L894.6 544.5 L895.1 577.1 L895.3 557.4 L895.6 573.3 L896.1 556.0 L896.3 582.6 L896.9 582.6 L897.1 553.2 L897.6 544.9 L897.8 575.6 L898.1 550.0 L898.6 599.5 L898.8 551.9 L899.0 598.3 L899.5 563.0 L899.7 602.3 L900.2 611.5 L900.4 563.0 L901.0 565.9 L901.2 579.9 L901.6 567.2 L901.8 515.1 L902.0 556.4 L902.5 506.8 L902.7 565.9 L903.0 495.4 L903.5 572.9 L903.7 457.3 L904.2 459.1 L904.4 517.2 L904.9 516.6 L905.1 464.2 L905.5 470.5 L905.7 517.2 L906.2 547.1 L906.4 479.4 L906.8 483.5 L907.0 547.7 L907.3 495.8 L907.8 553.2 L908.0 482.1 L908.6 443.6 L908.8 551.9 L909.1 466.7 L909.5 550.5 L909.7 435.3 L910.0 544.4 L910.5 432.6 L910.7 550.5 L911.3 549.1 L911.5 410.5 L912.2 462.9 L912.4 549.1 L912.6 471.6 L913.1 550.6 L913.3 464.2 L913.4 535.1 L913.6 581.2 L913.9 546.3 L914.3 596.7 L914.5 549.1 L915.2 554.6 L915.4 600.9 L916.0 553.7 L916.2 514.7 L916.8 510.6 L917.0 550.9 L917.7 550.9 L917.9 509.2 L918.4 531.4 L918.6 573.3 L918.8 540.3 L919.3 581.7 L919.5 548.1 L919.8 563.1 L920.2 545.3 L920.4 556.5 L921.1 545.3 L921.3 514.7 L921.6 534.4 L922.1 514.7 L922.3 535.6 L922.7 515.4 L923.2 535.6 L923.4 505.1 L923.7 533.4 L924.3 514.7 L924.5 531.4 L924.8 528.2 L925.3 571.9 L925.5 525.8 L926.2 496.8 L926.4 570.5 L926.6 511.6 L927.1 569.1 L927.3 492.8 L927.5 552.3 L928.0 525.8 L928.2 549.5 L928.5 538.0 L929.0 567.7 L929.2 538.3 L929.5 562.2 L929.9 524.4 L930.1 566.3 L930.6 583.1 L930.8 518.9 L931.1 571.4 L931.5 534.1 L931.7 566.3 L932.3 562.2 L932.5 491.4 L933.1 492.8 L933.3 587.3 L933.9 608.4 L934.1 548.1 L934.4 595.5 L934.9 496.8 L935.1 587.3 L935.3 518.7 L935.8 573.3 L936.0 531.4 L936.6 531.4 L936.8 587.3 L937.5 564.9 L937.7 538.3 L938.1 516.9 L938.3 544.8 L938.7 544.8 L938.9 516.9 L939.5 511.4 L939.7 521.1 L940.4 522.5 L940.6 512.8 L941.1 519.7 L941.3 549.0 L941.5 520.9 L942.0 571.4 L942.2 521.1 L942.5 545.2 L942.9 500.4 L943.1 526.7 L943.4 507.0 L943.9 528.1 L944.1 501.8 L944.4 509.8 L944.8 484.0 L945.0 500.5 L945.7 519.7 L945.9 489.5 L946.5 494.9 L946.7 521.1 L947.1 507.1 L947.6 544.8 L947.8 501.8 L948.5 468.8 L948.7 540.6 L949.3 528.1 L949.5 496.3 L950.0 528.1 L950.2 570.0 L950.6 537.7 L951.1 561.6 L951.3 532.2 L951.6 559.2 L952.1 515.5 L952.3 563.0 L953.0 561.6 L953.2 518.4 L953.8 514.2 L954.0 547.6 L954.3 518.1 L954.8 542.0 L955.0 511.4 L955.5 505.9 L955.7 547.6 L956.3 539.2 L956.5 522.5 L957.1 528.1 L957.3 584.0 L957.8 598.6 L958.0 544.7 L958.3 581.0 L958.7 526.7 L958.9 577.0 L959.6 572.7 L959.8 543.4 L960.1 544.7 L960.3 569.1" fill="none" stroke="#fd6204" stroke-width="3.0" stroke-linejoin="round"/>
<line x1="984.6" y1="163.7" x2="1191.7" y2="133" stroke="#ff6000" stroke-width="3"/>
<line x1="971.3" y1="743" x2="1180" y2="842.2" stroke="#ff6000" stroke-width="3"/>
<rect x="827.6" y="166.2" width="183" height="572.1" rx="28" ry="28" fill="none" stroke="#ff6000" stroke-width="6.6"/>
<rect x="1144.2" y="110.5" width="844.8" height="767.2" rx="127" ry="127" fill="#fff" stroke="#ff6000" stroke-width="7.2"/>
<text x="1577.4" y="174.4" text-anchor="middle" class="t2" transform="translate(1577.4 0) scale(0.897 1) translate(-1577.4 0)">U.S. Daily Consumer Confidence (PSC)</text>
<text x="1580.2" y="211.6" text-anchor="middle" class="t2" transform="translate(1580.2 0) scale(0.899 1) translate(-1580.2 0)">Apr 23: 98.9</text>
<rect x="1244" y="252.7" width="669.5" height="533.5" fill="#f4f4f4"/>
<line x1="1244" y1="301.5" x2="1913.5" y2="301.5" stroke="#dfdfdf" stroke-width="2.3"/>
<line x1="1244" y1="398.7" x2="1913.5" y2="398.7" stroke="#dfdfdf" stroke-width="2.3"/>
<line x1="1244" y1="496.4" x2="1913.5" y2="496.4" stroke="#dfdfdf" stroke-width="2.3"/>
<line x1="1244" y1="593.3" x2="1913.5" y2="593.3" stroke="#dfdfdf" stroke-width="2.3"/>
<line x1="1244" y1="689.3" x2="1913.5" y2="689.3" stroke="#dfdfdf" stroke-width="2.3"/>
<line x1="1244.4" y1="252.7" x2="1244.4" y2="797.6" stroke="#a2a2a2" stroke-width="2.4"/>
<line x1="1243.5" y1="786.2" x2="1914" y2="786.2" stroke="#a2a2a2" stroke-width="2.4"/>
<line x1="1232.6" y1="301.5" x2="1244.4" y2="301.5" stroke="#a2a2a2" stroke-width="2.4"/>
<line x1="1232.6" y1="398.7" x2="1244.4" y2="398.7" stroke="#a2a2a2" stroke-width="2.4"/>
<line x1="1232.6" y1="496.4" x2="1244.4" y2="496.4" stroke="#a2a2a2" stroke-width="2.4"/>
<line x1="1232.6" y1="593.3" x2="1244.4" y2="593.3" stroke="#a2a2a2" stroke-width="2.4"/>
<line x1="1232.6" y1="689.3" x2="1244.4" y2="689.3" stroke="#a2a2a2" stroke-width="2.4"/>
<line x1="1232.6" y1="785.9" x2="1244.4" y2="785.9" stroke="#a2a2a2" stroke-width="2.4"/>
<line x1="1244.5" y1="786.2" x2="1244.5" y2="797.6" stroke="#a2a2a2" stroke-width="2.4"/>
<line x1="1410.3" y1="786.2" x2="1410.3" y2="797.6" stroke="#a2a2a2" stroke-width="2.4"/>
<line x1="1578.4" y1="786.2" x2="1578.4" y2="797.6" stroke="#a2a2a2" stroke-width="2.4"/>
<line x1="1744.3" y1="786.2" x2="1744.3" y2="797.6" stroke="#a2a2a2" stroke-width="2.4"/>
<line x1="1913.0" y1="786.2" x2="1913.0" y2="797.6" stroke="#a2a2a2" stroke-width="2.4"/>
<path d="M0.385 0L0.385 -0.716L0.327 -0.716Q0.30 -0.64 0.22 -0.585Q0.16 -0.545 0.109 -0.525L0.109 -0.44Q0.17 -0.465 0.22 -0.497Q0.27 -0.53 0.297 -0.56L0.297 0Z" transform="translate(1174.43 314.10) scale(27.562 37.500)" fill="#000"/><text x="1188.65" y="314.10" style="font-size:37.5px" transform="translate(1188.65 0) scale(0.735 1) translate(-1188.65 0)">2</text><text x="1202.88" y="314.10" style="font-size:37.5px" transform="translate(1202.88 0) scale(0.735 1) translate(-1202.88 0)">0</text>
<path d="M0.385 0L0.385 -0.716L0.327 -0.716Q0.30 -0.64 0.22 -0.585Q0.16 -0.545 0.109 -0.525L0.109 -0.44Q0.17 -0.465 0.22 -0.497Q0.27 -0.53 0.297 -0.56L0.297 0Z" transform="translate(1174.43 411.30) scale(27.562 37.500)" fill="#000"/><path d="M0.385 0L0.385 -0.716L0.327 -0.716Q0.30 -0.64 0.22 -0.585Q0.16 -0.545 0.109 -0.525L0.109 -0.44Q0.17 -0.465 0.22 -0.497Q0.27 -0.53 0.297 -0.56L0.297 0Z" transform="translate(1188.65 411.30) scale(27.562 37.500)" fill="#000"/><text x="1202.88" y="411.30" style="font-size:37.5px" transform="translate(1202.88 0) scale(0.735 1) translate(-1202.88 0)">0</text>
<path d="M0.385 0L0.385 -0.716L0.327 -0.716Q0.30 -0.64 0.22 -0.585Q0.16 -0.545 0.109 -0.525L0.109 -0.44Q0.17 -0.465 0.22 -0.497Q0.27 -0.53 0.297 -0.56L0.297 0Z" transform="translate(1174.43 509.00) scale(27.562 37.500)" fill="#000"/><text x="1188.65" y="509.00" style="font-size:37.5px" transform="translate(1188.65 0) scale(0.735 1) translate(-1188.65 0)">0</text><text x="1202.88" y="509.00" style="font-size:37.5px" transform="translate(1202.88 0) scale(0.735 1) translate(-1202.88 0)">0</text>
<text x="1188.11" y="606.60" style="font-size:37.5px" transform="translate(1188.11 0) scale(0.76 1) translate(-1188.11 0)">9</text><text x="1203.95" y="606.60" style="font-size:37.5px" transform="translate(1203.95 0) scale(0.76 1) translate(-1203.95 0)">0</text>
<text x="1188.11" y="702.60" style="font-size:37.5px" transform="translate(1188.11 0) scale(0.76 1) translate(-1188.11 0)">8</text><text x="1203.95" y="702.60" style="font-size:37.5px" transform="translate(1203.95 0) scale(0.76 1) translate(-1203.95 0)">0</text>
<text x="1188.11" y="799.20" style="font-size:37.5px" transform="translate(1188.11 0) scale(0.76 1) translate(-1188.11 0)">7</text><text x="1203.95" y="799.20" style="font-size:37.5px" transform="translate(1203.95 0) scale(0.76 1) translate(-1203.95 0)">0</text>
<text x="1230.06" y="838.40" style="font-size:37.5px" transform="translate(1230.06 0) scale(0.75 1) translate(-1230.06 0)">2</text><path d="M0.385 0L0.385 -0.716L0.327 -0.716Q0.30 -0.64 0.22 -0.585Q0.16 -0.545 0.109 -0.525L0.109 -0.44Q0.17 -0.465 0.22 -0.497Q0.27 -0.53 0.297 -0.56L0.297 0Z" transform="translate(1245.70 838.40) scale(28.125 37.500)" fill="#000"/>
<text x="1395.86" y="838.40" style="font-size:37.5px" transform="translate(1395.86 0) scale(0.75 1) translate(-1395.86 0)">2</text><text x="1411.50" y="838.40" style="font-size:37.5px" transform="translate(1411.50 0) scale(0.75 1) translate(-1411.50 0)">2</text>
<text x="1563.96" y="838.40" style="font-size:37.5px" transform="translate(1563.96 0) scale(0.75 1) translate(-1563.96 0)">2</text><text x="1579.60" y="838.40" style="font-size:37.5px" transform="translate(1579.60 0) scale(0.75 1) translate(-1579.60 0)">3</text>
<text x="1729.86" y="838.40" style="font-size:37.5px" transform="translate(1729.86 0) scale(0.75 1) translate(-1729.86 0)">2</text><text x="1745.50" y="838.40" style="font-size:37.5px" transform="translate(1745.50 0) scale(0.75 1) translate(-1745.50 0)">4</text>
<text x="1898.56" y="838.40" style="font-size:37.5px" transform="translate(1898.56 0) scale(0.75 1) translate(-1898.56 0)">2</text><text x="1914.20" y="838.40" style="font-size:37.5px" transform="translate(1914.20 0) scale(0.75 1) translate(-1914.20 0)">5</text>
<path d="M1244.4 393.0 L1244.6 439.0 L1245.6 408.3 L1246.8 436.6 L1247.0 417.2 L1248.1 432.5 L1249.4 378.5 L1249.6 431.7 L1250.7 398.6 L1252.0 465.6 L1252.2 394.4 L1254.0 432.4 L1254.2 475.6 L1255.2 452.4 L1256.3 521.6 L1256.5 470.4 L1258.0 494.4 L1258.2 527.1 L1259.3 504.9 L1260.6 524.6 L1260.8 507.4 L1262.5 484.4 L1262.7 517.6 L1264.0 504.6 L1264.2 461.6 L1265.3 499.4 L1266.6 468.4 L1266.8 502.6 L1267.9 447.1 L1269.2 499.6 L1269.4 423.9 L1270.5 462.2 L1271.7 418.7 L1271.9 439.6 L1273.9 441.8 L1274.1 402.4 L1275.3 427.6 L1276.8 337.4 L1277.0 414.8 L1278.3 359.5 L1279.9 422.0 L1280.1 364.0 L1281.5 419.3 L1283.0 332.5 L1283.2 419.6 L1284.5 335.4 L1286.0 371.3 L1286.2 335.0 L1287.2 365.4 L1288.4 315.6 L1288.6 371.3 L1289.8 325.7 L1291.3 344.6 L1291.5 314.4 L1292.8 348.2 L1294.4 318.0 L1294.6 354.3 L1296.0 321.1 L1297.6 342.2 L1297.8 320.4 L1299.2 328.9 L1300.9 274.5 L1301.1 330.2 L1302.2 315.9 L1303.4 388.2 L1303.6 322.9 L1305.0 382.0 L1306.5 335.0 L1306.7 397.9 L1308.3 344.5 L1310.1 395.4 L1310.3 339.8 L1311.5 370.4 L1313.0 332.5 L1313.2 373.7 L1314.6 323.5 L1316.2 368.8 L1316.4 313.2 L1317.8 358.8 L1319.3 339.8 L1319.5 371.3 L1320.8 345.0 L1322.2 402.7 L1322.4 342.2 L1323.7 386.0 L1325.1 332.5 L1325.3 373.7 L1326.3 333.7 L1327.5 359.2 L1327.7 332.5 L1329.1 358.3 L1330.7 342.2 L1330.9 361.6 L1332.2 355.6 L1333.8 402.7 L1334.0 351.9 L1335.2 401.1 L1336.7 354.3 L1336.9 405.1 L1338.2 376.4 L1339.6 419.6 L1339.8 383.3 L1341.2 415.6 L1342.8 383.3 L1343.0 426.9 L1344.2 392.3 L1345.7 482.5 L1345.9 385.7 L1347.2 472.4 L1348.8 448.6 L1349.0 484.1 L1350.2 425.4 L1351.5 467.6 L1351.7 400.2 L1353.6 398.1 L1353.8 457.4 L1355.2 404.4 L1356.8 450.2 L1357.0 409.0 L1358.2 445.3 L1359.7 406.6 L1359.9 445.3 L1361.2 432.2 L1362.6 496.1 L1362.8 438.0 L1364.2 494.2 L1365.7 474.3 L1365.9 503.4 L1367.3 477.3 L1368.9 508.2 L1369.1 474.3 L1370.6 509.3 L1372.2 486.4 L1372.4 522.7 L1373.8 510.8 L1375.4 578.3 L1375.6 522.7 L1377.0 570.5 L1378.5 532.4 L1378.7 571.1 L1380.2 536.3 L1381.9 573.5 L1382.1 517.8 L1383.5 550.2 L1385.1 506.9 L1385.3 546.9 L1386.7 516.5 L1388.2 561.4 L1388.4 520.2 L1389.9 557.3 L1391.6 537.2 L1391.8 565.0 L1393.2 532.3 L1394.7 563.8 L1394.9 515.4 L1396.3 550.5 L1397.9 517.8 L1398.1 561.4 L1399.3 519.2 L1400.8 546.9 L1401.0 500.9 L1402.2 550.7 L1403.7 527.5 L1403.9 561.4 L1405.2 542.1 L1406.8 563.8 L1407.0 539.6 L1408.4 554.2 L1410.0 508.2 L1410.2 546.9 L1411.7 502.8 L1413.4 527.6 L1413.6 487.6 L1415.0 542.9 L1416.5 513.0 L1416.7 583.2 L1418.3 525.5 L1420.1 583.2 L1420.3 532.4 L1421.3 582.3 L1422.6 537.2 L1422.8 597.7 L1424.4 512.7 L1426.2 578.3 L1426.4 486.4 L1428.0 536.6 L1429.8 475.5 L1430.0 522.7 L1431.2 503.0 L1432.7 566.2 L1432.9 505.7 L1434.3 558.0 L1435.9 508.2 L1436.1 571.1 L1437.5 515.3 L1439.0 546.9 L1439.2 491.2 L1440.2 580.3 L1441.5 517.8 L1441.7 629.5 L1443.0 564.0 L1444.5 610.2 L1444.7 580.7 L1446.3 600.6 L1448.1 576.3 L1448.3 600.5 L1449.9 569.9 L1451.8 593.2 L1452.0 552.1 L1453.5 587.2 L1455.2 531.1 L1455.4 595.6 L1456.5 551.8 L1457.7 576.7 L1459.0 586.0 L1459.2 552.1 L1460.8 591.9 L1462.6 556.9 L1462.8 610.2 L1464.2 569.7 L1465.8 641.6 L1466.0 554.5 L1467.5 634.0 L1469.2 549.7 L1469.4 629.5 L1470.8 580.3 L1472.3 634.3 L1472.5 583.5 L1473.9 642.7 L1475.5 590.8 L1475.7 677.9 L1477.0 634.1 L1478.4 680.3 L1478.6 639.1 L1479.8 684.6 L1481.3 675.4 L1481.5 706.9 L1482.8 690.4 L1484.4 762.5 L1484.6 697.2 L1486.0 754.0 L1487.6 699.6 L1487.8 760.1 L1489.0 727.7 L1490.5 774.6 L1490.7 735.9 L1492.0 775.5 L1493.4 740.7 L1493.6 777.0 L1495.0 725.2 L1496.5 735.9 L1496.7 699.6 L1498.0 718.1 L1499.6 612.5 L1499.8 706.9 L1501.1 628.4 L1502.6 692.4 L1502.8 639.1 L1504.4 696.1 L1506.2 619.8 L1506.4 702.1 L1507.8 633.8 L1509.3 651.3 L1509.5 622.2 L1510.8 647.0 L1512.2 581.1 L1512.4 646.4 L1513.7 580.3 L1515.1 615.0 L1515.3 571.4 L1516.7 602.0 L1518.3 564.2 L1518.5 598.1 L1519.8 581.1 L1521.4 605.3 L1521.6 583.5 L1523.1 616.5 L1524.8 576.3 L1525.0 629.5 L1526.3 604.1 L1527.9 656.1 L1528.1 619.8 L1529.2 667.3 L1530.4 644.0 L1530.6 692.4 L1532.0 654.9 L1533.5 677.9 L1533.7 644.0 L1535.0 669.3 L1536.4 627.0 L1536.6 682.7 L1537.8 646.2 L1539.3 685.1 L1539.5 639.1 L1540.9 677.3 L1542.5 627.0 L1542.7 677.6 L1544.2 627.5 L1546.0 674.6 L1546.2 614.1 L1547.8 655.0 L1549.7 611.7 L1549.9 645.6 L1551.5 620.7 L1553.3 645.6 L1553.5 611.7 L1554.8 646.6 L1556.4 606.8 L1556.6 677.6 L1557.8 622.5 L1559.3 669.8 L1559.5 633.4 L1561.2 662.2 L1563.0 635.9 L1563.2 657.6 L1564.5 594.6 L1566.1 655.3 L1566.3 544.0 L1567.5 616.0 L1569.0 544.0 L1569.2 587.6 L1570.5 513.6 L1571.9 558.6 L1572.1 463.0 L1573.5 549.5 L1575.1 529.4 L1575.3 563.4 L1576.9 531.4 L1578.7 573.0 L1578.9 527.0 L1580.2 572.9 L1581.6 522.2 L1581.8 573.0 L1582.8 521.5 L1584.0 560.9 L1584.2 507.7 L1585.6 574.0 L1587.2 519.8 L1587.4 602.0 L1588.8 542.2 L1590.3 606.9 L1590.5 539.1 L1591.5 593.1 L1592.7 539.1 L1592.9 622.6 L1594.2 552.7 L1595.6 568.2 L1595.8 544.0 L1597.4 455.9 L1597.6 546.4 L1599.0 463.6 L1600.6 544.0 L1600.8 441.4 L1602.4 521.9 L1604.2 354.3 L1604.4 556.1 L1605.3 386.7 L1606.5 459.6 L1606.7 357.4 L1607.8 457.5 L1609.0 366.4 L1609.2 458.6 L1611.0 459.6 L1611.2 377.4 L1612.2 458.5 L1613.4 393.0 L1613.6 511.6 L1615.2 512.6 L1615.4 400.2 L1617.0 489.7 L1618.7 397.8 L1618.9 522.2 L1620.2 405.2 L1621.6 519.8 L1621.8 330.1 L1623.2 471.7 L1624.7 315.6 L1624.9 517.4 L1626.3 337.2 L1627.9 517.4 L1628.1 310.8 L1629.3 489.3 L1630.8 272.1 L1631.0 515.0 L1632.2 324.2 L1633.7 515.0 L1633.9 364.0 L1635.2 487.5 L1636.8 366.4 L1637.0 517.6 L1637.9 570.6 L1638.1 490.8 L1639.5 582.4 L1641.1 515.0 L1641.3 597.2 L1642.5 521.4 L1644.0 604.5 L1644.2 524.6 L1645.4 559.1 L1646.8 455.3 L1647.0 523.0 L1648.2 455.0 L1649.7 518.2 L1649.9 448.0 L1651.2 510.9 L1652.6 445.6 L1652.8 518.2 L1653.8 466.1 L1655.0 556.9 L1655.2 484.3 L1656.5 564.1 L1658.1 513.3 L1658.3 571.4 L1659.7 512.7 L1661.3 527.9 L1661.5 508.5 L1662.8 517.1 L1664.2 455.3 L1664.4 508.5 L1666.0 460.2 L1667.8 491.6 L1668.0 455.3 L1669.6 491.3 L1671.4 438.4 L1671.6 491.6 L1673.2 457.6 L1675.1 484.3 L1675.3 455.3 L1676.9 509.4 L1678.7 474.6 L1678.9 554.5 L1680.2 453.8 L1681.6 552.1 L1681.8 423.8 L1683.2 541.0 L1684.7 416.6 L1684.9 549.6 L1686.3 454.7 L1687.9 515.8 L1688.1 474.6 L1689.6 526.5 L1691.3 496.4 L1691.5 547.2 L1692.8 486.6 L1694.4 544.8 L1694.6 472.2 L1695.6 535.9 L1696.8 462.5 L1697.0 573.8 L1698.4 500.7 L1700.0 544.8 L1700.2 489.1 L1701.2 528.7 L1702.4 414.2 L1702.6 537.6 L1703.8 436.3 L1705.3 581.1 L1705.5 416.6 L1706.8 595.7 L1708.2 513.3 L1708.4 617.3 L1709.8 472.6 L1711.3 581.1 L1711.5 423.8 L1712.9 557.2 L1714.5 484.3 L1714.7 556.9 L1716.0 491.0 L1717.4 581.1 L1717.6 484.3 L1718.8 544.0 L1720.3 496.4 L1720.5 542.4 L1722.4 507.6 L1722.6 459.1 L1724.4 459.1 L1724.6 507.6 L1725.8 455.9 L1727.3 466.4 L1727.5 449.5 L1728.8 467.5 L1730.2 451.9 L1730.4 468.8 L1731.4 467.6 L1732.6 514.8 L1732.8 464.0 L1734.2 523.2 L1735.7 466.4 L1735.9 553.5 L1737.3 451.2 L1738.9 476.1 L1739.1 430.1 L1740.6 469.8 L1742.2 432.5 L1742.4 478.5 L1743.8 417.1 L1745.4 430.2 L1745.6 401.1 L1747.0 440.6 L1748.5 410.8 L1748.7 464.0 L1750.0 430.2 L1751.4 466.4 L1751.6 420.4 L1753.2 471.3 L1755.1 432.5 L1755.3 507.6 L1756.7 424.5 L1758.2 500.3 L1758.4 374.5 L1759.7 482.3 L1761.1 422.9 L1761.3 478.5 L1762.3 457.8 L1763.5 551.1 L1763.7 478.5 L1765.3 540.8 L1767.2 485.7 L1767.4 536.6 L1769.0 486.6 L1770.8 539.0 L1771.0 456.7 L1772.2 525.2 L1773.7 461.6 L1773.9 536.6 L1775.2 473.5 L1776.8 512.4 L1777.0 454.3 L1778.4 502.0 L1780.0 449.5 L1780.2 502.7 L1781.2 448.9 L1782.4 512.4 L1782.6 439.8 L1783.8 492.8 L1785.3 468.8 L1785.5 497.9 L1786.8 492.3 L1788.2 575.3 L1788.4 478.5 L1789.4 563.7 L1790.6 507.5 L1790.8 600.6 L1792.2 513.6 L1793.8 563.2 L1794.0 476.1 L1795.3 542.6 L1796.9 505.1 L1797.1 555.9 L1798.6 549.6 L1798.8 507.4" fill="none" stroke="#fd6204" stroke-width="5.0" stroke-linejoin="round"/>
</svg>
</body></html>
